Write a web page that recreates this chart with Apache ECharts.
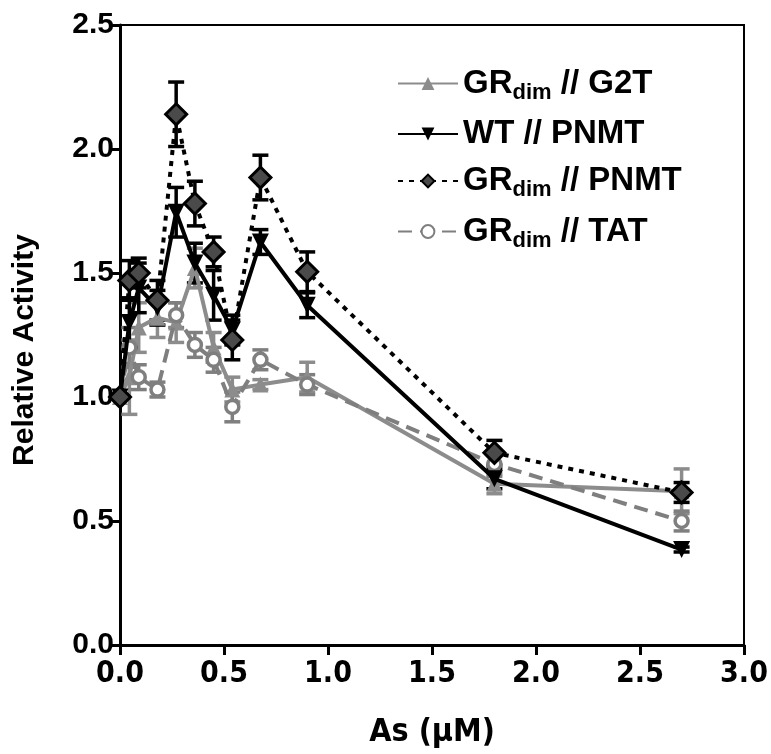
<!DOCTYPE html>
<html>
<head>
<meta charset="utf-8">
<script src="https://cdn.jsdelivr.net/npm/echarts@6/dist/echarts.min.js"></script>
<style>
  html, body { margin: 0; padding: 0; background: #fff; }
  #chart { width: 771px; height: 754px; }
</style>
</head>
<body>
<div id="chart"></div>
<script>
// arsenite concentrations (µM)
const doses = [0, 0.045, 0.09, 0.18, 0.27, 0.36, 0.45, 0.54, 0.675, 0.9, 1.8, 2.7]

const g2tMean = [1.0, 1.08, 1.28, 1.32, 1.30, 1.52, 1.20, 1.03, 1.05, 1.08, 0.65, 0.62]
const g2tErr = [0, 0.15, 0.10, 0.08, 0.08, 0.08, 0.06, 0.05, 0.02, 0.06, 0.04, 0.09]

const wtMean = [1.0, 1.30, 1.44, 1.36, 1.745, 1.54, 1.41, 1.27, 1.625, 1.37, 0.67, 0.385]
const wtErr = [0, 0.10, 0.10, 0.07, 0.10, 0.08, 0.10, 0.06, 0.05, 0.05, 0.04, 0.01]

const pnmtMean = [1.0, 1.47, 1.50, 1.39, 2.14, 1.78, 1.585, 1.23, 1.885, 1.505, 0.775, 0.615]
const pnmtErr = [0, 0.08, 0.06, 0.08, 0.13, 0.09, 0.06, 0.08, 0.09, 0.08, 0.05, 0.04]

const tatMean = [1.0, 1.20, 1.08, 1.03, 1.33, 1.21, 1.15, 0.96, 1.15, 1.05, 0.73, 0.50]
const tatErr = [0, 0.08, 0.05, 0.03, 0.05, 0.05, 0.05, 0.06, 0.04, 0.04, 0.05, 0.04]

const legendLabels = {
  g2t: '{b|GR}{s|dim}{b| // G2T}',
  wt: '{b|WT // PNMT}',
  pnmt: '{b|GR}{s|dim}{b| // PNMT}',
  tat: '{b|GR}{s|dim}{b| // TAT}',
}

const chart = echarts.init(document.getElementById('chart'))

function pairs(mean) {
  return doses.map((d, i) => [d, mean[i]])
}

function errorSeries(mean, err, color) {
  return {
    type: 'custom',
    silent: true,
    z: 1,
    data: doses.map((d, i) => [d, mean[i] - err[i], mean[i] + err[i]]),
    renderItem: (params, api) => {
      const lo = api.coord([api.value(0), api.value(1)])
      const hi = api.coord([api.value(0), api.value(2)])
      const w = 8
      const style = { stroke: color, lineWidth: 3.5 }
      return {
        type: 'group',
        children: [
          { type: 'line', shape: { x1: lo[0], y1: lo[1], x2: hi[0], y2: hi[1] }, style },
          { type: 'line', shape: { x1: lo[0] - w, y1: lo[1], x2: lo[0] + w, y2: lo[1] }, style },
          { type: 'line', shape: { x1: hi[0] - w, y1: hi[1], x2: hi[0] + w, y2: hi[1] }, style },
        ],
      }
    },
  }
}

const narrow = '"DejaVu Sans Condensed", "Liberation Sans", sans-serif'
const tickFontY = { fontFamily: 'Liberation Sans', fontWeight: 'bold', fontSize: 30, color: '#000' }
const tickFontX = { fontFamily: narrow, fontWeight: 'bold', fontSize: 30, color: '#000' }

chart.setOption({
  animation: false,
  grid: {
    left: 120,
    right: 27,
    top: 25,
    bottom: 104,
    show: true,
    borderColor: '#000',
    borderWidth: 2,
  },
  legend: {
    orient: 'vertical',
    left: 392,
    top: 62,
    itemWidth: 60,
    itemHeight: 16,
    itemGap: 14,
    data: ['g2t', 'wt', 'pnmt', 'tat'],
    formatter: name => legendLabels[name],
    textStyle: {
      rich: {
        b: { fontFamily: 'Liberation Sans', fontWeight: 'bold', fontSize: 33, color: '#000' },
        s: { fontFamily: 'Liberation Sans', fontWeight: 'bold', fontSize: 22, color: '#000', verticalAlign: 'bottom', padding: [18, 0, 0, 0] },
      },
    },
  },
  xAxis: {
    type: 'value',
    min: 0,
    max: 3,
    interval: 0.5,
    name: 'As (μM)',
    nameLocation: 'middle',
    nameGap: 72,
    nameTextStyle: { fontFamily: narrow, fontWeight: 'bold', fontSize: 32, color: '#000' },
    axisLine: { lineStyle: { color: '#000', width: 3 } },
    axisTick: { show: true, inside: false, length: 10, lineStyle: { color: '#000', width: 3 } },
    axisLabel: { ...tickFontX, margin: 14, formatter: v => v.toFixed(1) },
    splitLine: { show: false },
  },
  yAxis: {
    type: 'value',
    min: 0,
    max: 2.5,
    interval: 0.5,
    name: 'Relative Activity',
    nameLocation: 'middle',
    nameGap: 80,
    nameTextStyle: { fontFamily: 'Liberation Sans', fontWeight: 'bold', fontSize: 30, color: '#000', padding: [0, 30, 0, 0] },
    axisLine: { show: true, lineStyle: { color: '#000', width: 3 } },
    axisTick: { show: true, inside: false, length: 10, lineStyle: { color: '#000', width: 3 } },
    axisLabel: { ...tickFontY, margin: 6, formatter: v => v.toFixed(1) },
    splitLine: { show: false },
  },
  series: [
    errorSeries(g2tMean, g2tErr, '#8c8c8c'),
    errorSeries(tatMean, tatErr, '#7f7f7f'),
    errorSeries(wtMean, wtErr, '#000'),
    errorSeries(pnmtMean, pnmtErr, '#000'),
    {
      name: 'g2t',
      type: 'line',
      z: 2,
      data: pairs(g2tMean),
      symbol: 'triangle',
      symbolSize: 16,
      lineStyle: { color: '#8c8c8c', width: 4 },
      itemStyle: { color: '#8c8c8c' },
    },
    {
      name: 'tat',
      type: 'line',
      z: 3,
      data: pairs(tatMean),
      symbol: 'circle',
      symbolSize: 13,
      lineStyle: { color: '#7f7f7f', width: 4, type: [14, 8] },
      itemStyle: { color: '#fff', borderColor: '#7f7f7f', borderWidth: 3.5 },
    },
    {
      name: 'wt',
      type: 'line',
      z: 4,
      data: pairs(wtMean),
      symbol: 'triangle',
      symbolRotate: 180,
      symbolSize: 17,
      lineStyle: { color: '#000', width: 4 },
      itemStyle: { color: '#000' },
    },
    {
      name: 'pnmt',
      type: 'line',
      z: 5,
      data: pairs(pnmtMean),
      symbol: 'diamond',
      symbolSize: 21,
      lineStyle: { color: '#000', width: 4, type: [5, 6] },
      itemStyle: { color: '#4a4a4a', borderColor: '#000', borderWidth: 3 },
    },
  ],
})
</script>
</body>
</html>
